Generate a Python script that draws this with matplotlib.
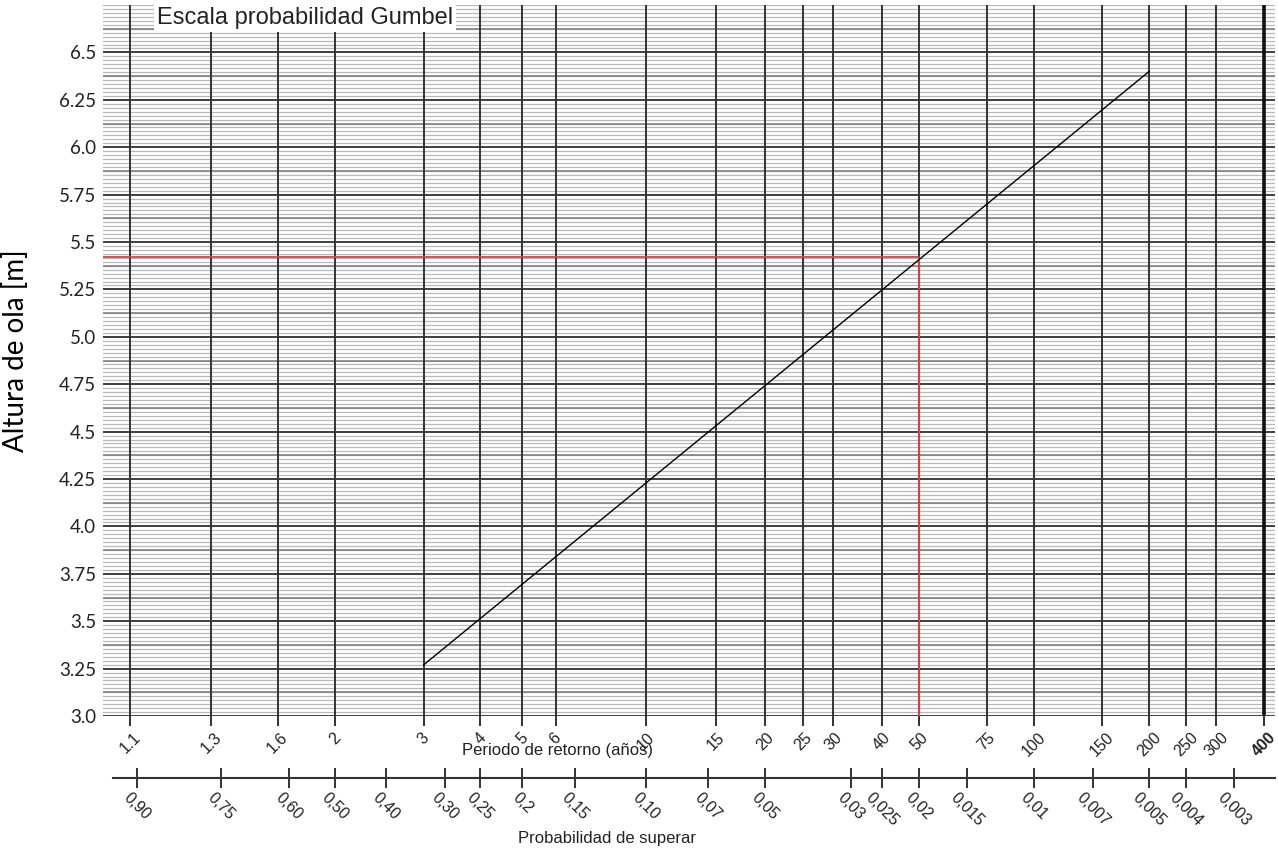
import numpy as np
import matplotlib
matplotlib.use('Agg')
import matplotlib.pyplot as plt
from matplotlib.ticker import MultipleLocator

plt.rcParams['font.family'] = ['Liberation Sans', 'DejaVu Sans']

# return periods (years) shown on the Gumbel axis
periods = [1.1, 1.3, 1.6, 2, 3, 4, 5, 6, 10, 15, 20, 25, 30, 40, 50, 75, 100, 150, 200, 250, 300, 400]
period_labels = ['1.1', '1.3', '1.6', '2', '3', '4', '5', '6', '10', '15', '20', '25', '30', '40',
                 '50', '75', '100', '150', '200', '250', '300', '400']

# exceedance probabilities on the lower axis
probabilities = [0.90, 0.75, 0.60, 0.50, 0.40, 0.30, 0.25, 0.2, 0.15, 0.10, 0.07, 0.05,
                 0.03, 0.025, 0.02, 0.015, 0.01, 0.007, 0.005, 0.004, 0.003]
prob_labels = ['0,90', '0,75', '0,60', '0,50', '0,40', '0,30', '0,25', '0,2', '0,15', '0,10', '0,07',
               '0,05', '0,03', '0,025', '0,02', '0,015', '0,01', '0,007', '0,005', '0,004', '0,003']

height_ticks = [3.0, 3.25, 3.5, 3.75, 4.0, 4.25, 4.5, 4.75, 5.0, 5.25, 5.5, 5.75, 6.0, 6.25, 6.5]
height_labels = ['3.0', '3.25', '3.5', '3.75', '4.0', '4.25', '4.5', '4.75', '5.0', '5.25',
                 '5.5', '5.75', '6.0', '6.25', '6.5']

# fitted Gumbel line and design value
fit_periods = [3, 200]
fit_heights = [3.27, 6.40]
design_period = 50
design_height = 5.42

T_MIN, T_MAX = 1.063, 428.0
H_MIN, H_MAX = 3.0, 6.75


def gumbel(t):
    t = np.asarray(t, dtype=float)
    with np.errstate(all='ignore'):
        return -np.log(-np.log(1.0 - 1.0 / t))


def gumbel_inv(y):
    y = np.asarray(y, dtype=float)
    with np.errstate(all='ignore'):
        return 1.0 / (1.0 - np.exp(-np.exp(-y)))


def main():
    fig = plt.figure(figsize=(12.78, 8.5), dpi=100)
    ax = fig.add_axes([0.0806, 0.1576, 0.9171, 0.8365])
    ax.set_xscale('function', functions=(gumbel, gumbel_inv))
    ax.set_xlim(T_MIN, T_MAX)
    ax.set_ylim(H_MIN, H_MAX)

    # dense horizontal grid
    ax.set_yticks(height_ticks)
    ax.set_yticklabels(height_labels, family=['Lato', 'DejaVu Sans'], fontsize=13.5, color='#222222')
    ax.yaxis.set_minor_locator(MultipleLocator(0.25 / 12))
    ax.grid(axis='y', which='minor', color='#b8b8b8', lw=0.9)
    ax.grid(axis='y', which='major', color='#1e1e1e', lw=1.2)
    for h in np.arange(3.125, 6.75, 0.25):
        ax.axhline(h, color='#7a7a7a', lw=1.1, zorder=0.6)
    ax.tick_params(axis='y', which='both', length=0, pad=5)

    # vertical lines at each return period, drawn over the horizontal grid
    ax.set_xticks(periods)
    ax.set_xticklabels(period_labels, rotation=45, ha='center', fontsize=11.5, color='#222222')
    ax.xaxis.set_minor_locator(plt.NullLocator())
    ax.grid(axis='x', which='major', color='#333333', lw=1.4)
    ax.tick_params(axis='x', direction='out', length=7, width=1.4, color='#333333', pad=3)
    ax.xaxis.get_gridlines()[-1].set_linewidth(2.6)
    ax.xaxis.get_gridlines()[-1].set_color('#111111')
    ax.get_xticklabels()[-1].set_fontweight('bold')
    ax.set_axisbelow(True)
    ax.xaxis.set_zorder(0.7)
    for s in ax.spines.values():
        s.set_visible(False)

    ax.plot(fit_periods, fit_heights, color='black', lw=1.0, zorder=3)
    ax.hlines(design_height, T_MIN, design_period, color='#e03c3c', lw=1.3, zorder=2)
    ax.vlines(design_period, H_MIN, design_height, color='#e03c3c', lw=1.5, zorder=2)

    ax.text(0.046, 0.982, 'Escala probabilidad Gumbel', transform=ax.transAxes, fontsize=17,
            color='#222222', va='center', ha='left', clip_on=False, zorder=4,
            bbox=dict(facecolor='white', edgecolor='none', pad=2.0))

    fig.text(558 / 1278, 1 - 751 / 850, 'Periodo de retorno (años)', fontsize=12,
             ha='center', va='center', color='#222222')
    fig.text(16 / 1278, 0.588, 'Altura de ola [m]', rotation=90, fontsize=20,
             family=['Lato', 'DejaVu Sans'], ha='center', va='center')

    # exceedance probability axis
    ax2 = fig.add_axes([0.0806, 1 - 778 / 850, 0.9171, 0.0001])
    ax2.set_xscale('function', functions=(gumbel, gumbel_inv))
    ax2.set_xlim(T_MIN, T_MAX)
    ax2.set_yticks([])
    ax2.patch.set_visible(False)
    for name in ['top', 'left', 'right']:
        ax2.spines[name].set_visible(False)
    ax2.spines['bottom'].set_color('#333333')
    ax2.spines['bottom'].set_linewidth(1.5)
    ax2.spines['bottom'].set_bounds(1.075, T_MAX)
    ax2.set_xticks(1.0 / np.array(probabilities))
    ax2.set_xticklabels(prob_labels, rotation=-45, ha='center', fontsize=11.5, color='#222222')
    ax2.xaxis.set_minor_locator(plt.NullLocator())
    ax2.tick_params(axis='x', direction='inout', length=14, width=1.4, color='#333333', pad=2)
    fig.text(607 / 1278, 1 - 838 / 850, 'Probabilidad de superar', fontsize=12,
             ha='center', va='center', color='#222222')

    fig.savefig('out.png', dpi=100)


if __name__ == '__main__':
    main()
